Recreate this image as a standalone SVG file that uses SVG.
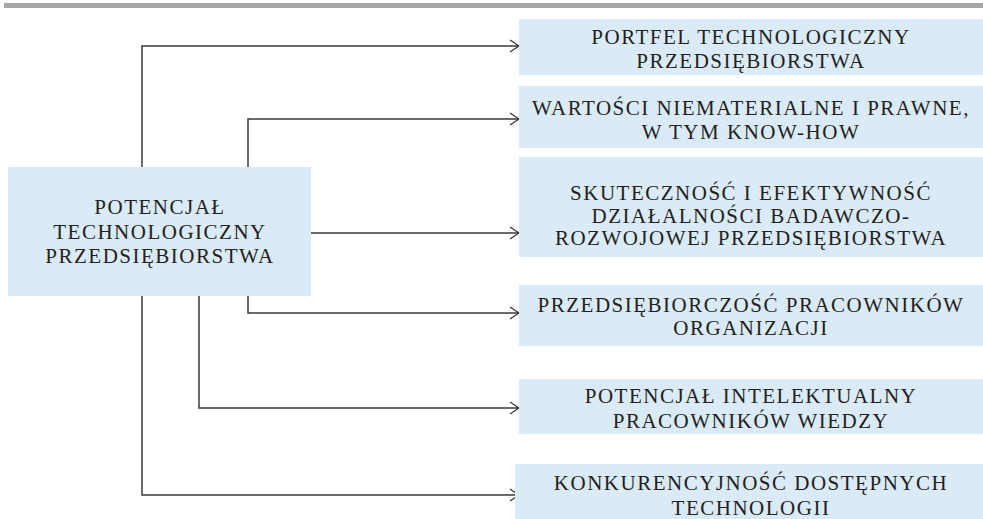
<svg xmlns="http://www.w3.org/2000/svg" width="983" height="519" viewBox="0 0 983 519">
<defs>
<marker id="arr" markerUnits="userSpaceOnUse" markerWidth="14" markerHeight="16" refX="11" refY="7" orient="auto">
<path d="M2,1 L11,7 L2,13" fill="none" stroke="#333" stroke-width="1.2"/>
</marker>
</defs>
<style>
.box{fill:#daeaf6}
.t{font-family:'Liberation Serif','Times New Roman',serif;font-size:21px;fill:#231f20;text-anchor:middle;letter-spacing:1.5px}
.c{fill:none;stroke:#3a3a3a;stroke-width:1.5}
</style>
<rect x="4" y="3" width="979" height="5" fill="#a6a6a6"/>
<g id="connectors">
<path class="c" d="M142,167 V46 H519" marker-end="url(#arr)"/>
<path class="c" d="M248,167 V119 H519" marker-end="url(#arr)"/>
<path class="c" d="M311,233 H519" marker-end="url(#arr)"/>
<path class="c" d="M248,296 V313 H519" marker-end="url(#arr)"/>
<path class="c" d="M199,296 V408 H519" marker-end="url(#arr)"/>
<path class="c" d="M142,296 V495 H519" marker-end="url(#arr)"/>
</g>
<g id="center">
<rect class="box" x="8" y="167" width="303" height="129"/>
<text class="t" x="160" y="214">POTENCJAŁ</text>
<text class="t" x="160" y="239">TECHNOLOGICZNY</text>
<text class="t" x="160" y="263">PRZEDSIĘBIORSTWA</text>
</g>
<g id="n1">
<rect class="box" x="519" y="19" width="464" height="56"/>
<text class="t" x="751" y="44">PORTFEL TECHNOLOGICZNY</text>
<text class="t" x="751" y="68">PRZEDSIĘBIORSTWA</text>
</g>
<g id="n2">
<rect class="box" x="519" y="86" width="464" height="62"/>
<text class="t" x="751" y="115">WARTOŚCI NIEMATERIALNE I PRAWNE,</text>
<text class="t" x="751" y="139">W TYM KNOW-HOW</text>
</g>
<g id="n3">
<rect class="box" x="519" y="157" width="464" height="100"/>
<text class="t" x="751" y="200">SKUTECZNOŚĆ I EFEKTYWNOŚĆ</text>
<text class="t" x="751" y="223">DZIAŁALNOŚCI BADAWCZO-</text>
<text class="t" x="751" y="245">ROZWOJOWEJ PRZEDSIĘBIORSTWA</text>
</g>
<g id="n4">
<rect class="box" x="519" y="285" width="464" height="61"/>
<text class="t" x="751" y="312">PRZEDSIĘBIORCZOŚĆ PRACOWNIKÓW</text>
<text class="t" x="751" y="335">ORGANIZACJI</text>
</g>
<g id="n5">
<rect class="box" x="519" y="379" width="464" height="55"/>
<text class="t" x="751" y="403">POTENCJAŁ INTELEKTUALNY</text>
<text class="t" x="751" y="428">PRACOWNIKÓW WIEDZY</text>
</g>
<g id="n6">
<rect class="box" x="515" y="464" width="468" height="55"/>
<text class="t" x="751" y="490">KONKURENCYJNOŚĆ DOSTĘPNYCH</text>
<text class="t" x="751" y="515">TECHNOLOGII</text>
</g>
</svg>
